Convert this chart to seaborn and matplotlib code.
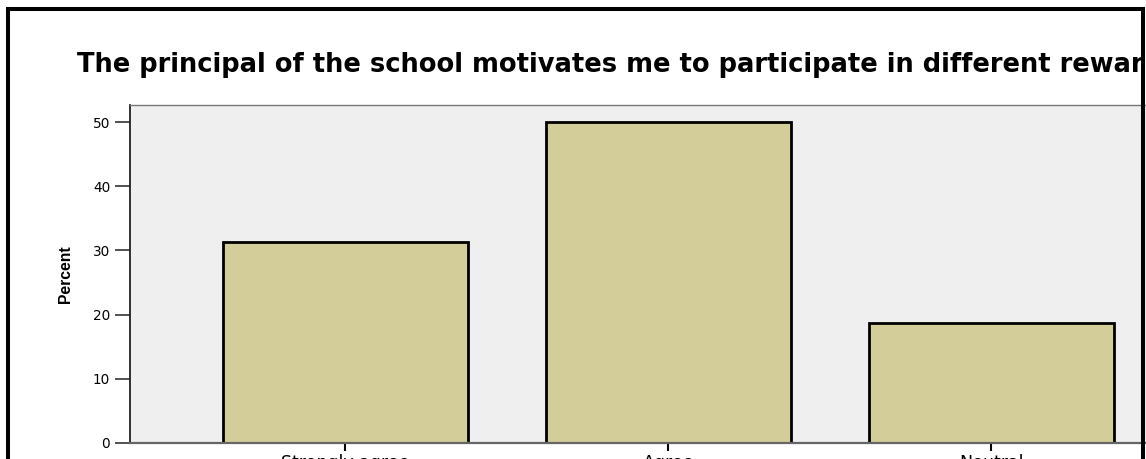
import matplotlib
matplotlib.use('Agg')
import matplotlib.pyplot as plt
from matplotlib.patches import Rectangle
import seaborn as sns
import pandas as pd

# Values (percent of respondents)
categories = ['Strongly agree', 'Agree', 'Neutral']
percent = [31.25, 50.0, 18.75]
y_ticks = [0, 10, 20, 30, 40, 50]
title = 'The principal of the school motivates me to participate in different rewar'

df = pd.DataFrame({'answer': categories, 'percent': percent})

W, H = 1146, 459
sns.set_theme(style='white')
plt.rcParams['font.family'] = ['DejaVu Sans']
plt.rcParams['text.color'] = 'black'
plt.rcParams['xtick.labelcolor'] = 'black'
plt.rcParams['ytick.labelcolor'] = 'black'
plt.rcParams['axes.labelcolor'] = 'black'

fig = plt.figure(figsize=(W / 100, H / 100), dpi=100)
fig.patch.set_facecolor('white')

# plot area in pixels: left 130, top 105, bottom 443, runs past the right edge
left_px, top_px, bot_px, right_px = 130, 105, 443, 1160
ax = fig.add_axes([left_px / W, (H - bot_px) / H,
                   (right_px - left_px) / W, (bot_px - top_px) / H])
ax.set_facecolor('#efefef')

sns.barplot(data=df, x='answer', y='percent', order=categories,
            color='#d3ce99', saturation=1, width=0.758,
            edgecolor='black', linewidth=2.0, ax=ax)

ax.set_xlim(-0.667, -0.667 + (right_px - left_px) / 323.0)
ax.set_ylim(0, 52.65)
ax.set_yticks(y_ticks)
ax.set_yticklabels([str(t) for t in y_ticks])

for s in ['left', 'top', 'bottom']:
    ax.spines[s].set_visible(True)
ax.spines['left'].set_color('#222222')
ax.spines['left'].set_linewidth(1.3)
ax.spines['top'].set_color('#777777')
ax.spines['top'].set_linewidth(1.0)
ax.spines['bottom'].set_color('#666666')
ax.spines['bottom'].set_linewidth(1.6)
ax.spines['right'].set_visible(False)

ax.tick_params(axis='y', length=10.8, width=1.1, color='#222222', pad=3.5,
               left=True, labelsize=9.8)
# category labels sit mostly below the cut-off bottom edge, as in the reference
ax.tick_params(axis='x', length=5.8, width=1.5, color='black', pad=2,
               bottom=True, labelsize=12.5)

ax.set_xlabel('')
ax.set_ylabel('Percent', fontsize=11.3, fontweight='bold',
              family=['Liberation Sans Narrow', 'Liberation Sans'], labelpad=14)

# title: fit its width to the span seen in the reference (x 77 -> ~1143)
t = fig.text(77 / W, 1 - 65 / H, title, ha='left', va='center',
             fontsize=10, fontweight='bold', color='black')
r = fig.canvas.get_renderer()
w10 = t.get_window_extent(r).width
t.set_fontsize(10 * (1143 - 77) / w10)

# outer black frame of the chart
fig.add_artist(Rectangle((8 / W, -0.2), (1143 - 8) / W, 1.2 - 9 / H,
                         transform=fig.transFigure, fill=False,
                         edgecolor='black', linewidth=2.9, zorder=10))

fig.savefig('out.png', dpi=100)
